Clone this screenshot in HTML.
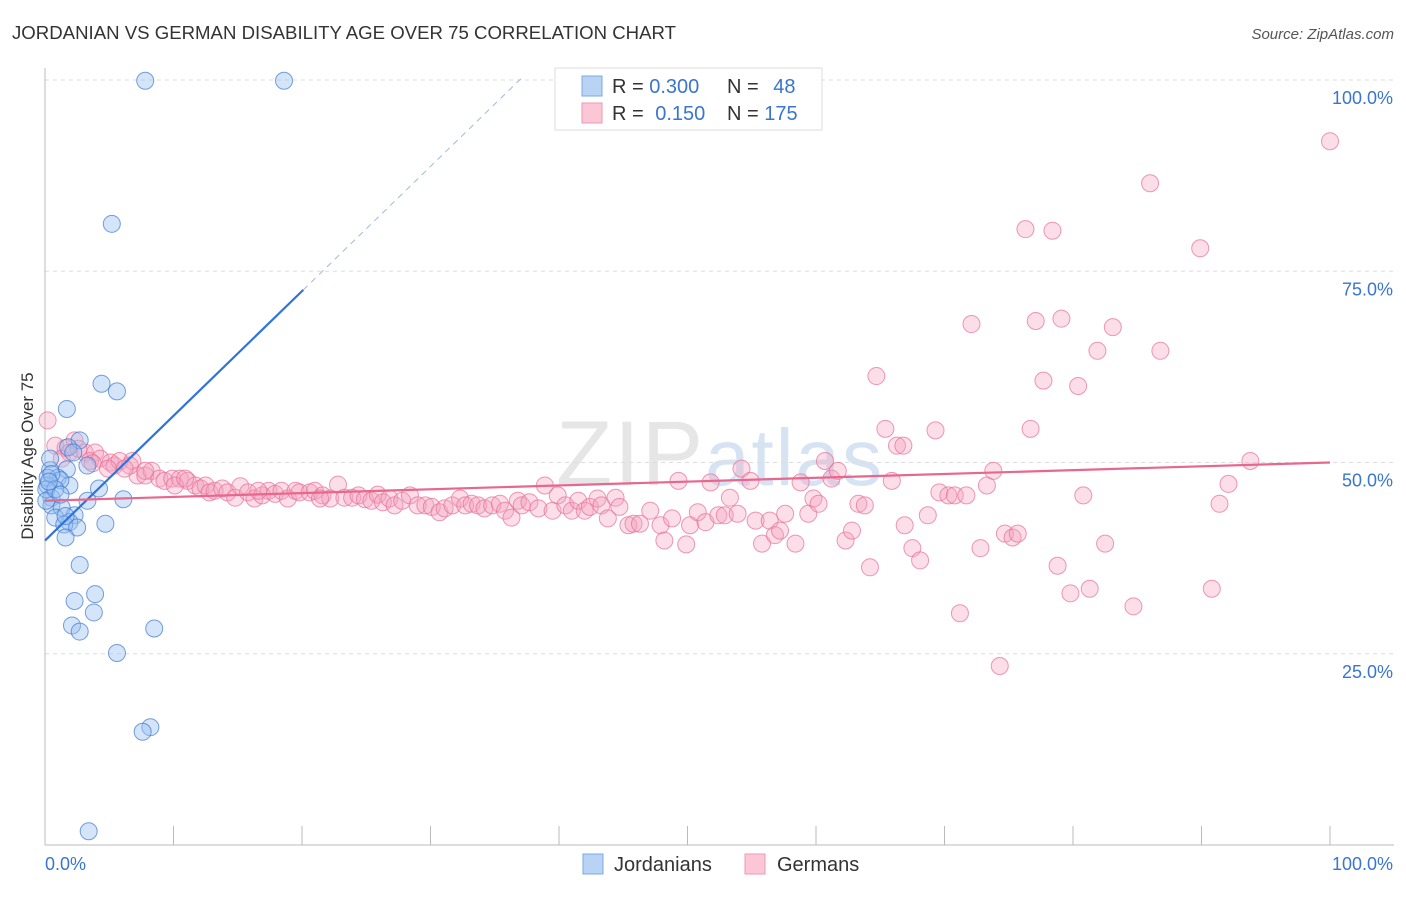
<!DOCTYPE html>
<html><head><meta charset="utf-8"><style>
body{margin:0;background:#fff;font-family:"Liberation Sans",sans-serif;}
svg text{font-family:"Liberation Sans",sans-serif;}
</style></head><body>
<svg id="chart" width="1406" height="892" xmlns="http://www.w3.org/2000/svg">
<text x="12" y="39" font-size="18.5" fill="#333" textLength="664" lengthAdjust="spacingAndGlyphs">JORDANIAN VS GERMAN DISABILITY AGE OVER 75 CORRELATION CHART</text>
<text x="1394" y="39" font-size="15" fill="#555" text-anchor="end" font-style="italic">Source: ZipAtlas.com</text>
<text x="720" y="485" font-size="92" fill="#e6e6e6" text-anchor="middle" font-family="Liberation Serif" letter-spacing="2">ZIP<tspan fill="#d6e3f3" font-family="Liberation Sans" font-size="80">atlas</tspan></text>
<g id="grid"></g>
<g id="axes"></g>
<g id="pts"></g>
<g id="trend"></g>
<text transform="translate(33,456) rotate(-90)" font-size="17" fill="#333" text-anchor="middle">Disability Age Over 75</text>
<g>
<rect x="555" y="68" width="267" height="62" fill="#fff" stroke="#ddd"/>
<rect x="582" y="76" width="20" height="20" fill="#b9d3f5" stroke="#7aa8e6"/>
<rect x="582" y="103" width="20" height="20" fill="#fbc6d6" stroke="#ee9ab3"/>
<text x="612" y="93" font-size="20" fill="#333">R = <tspan fill="#3a75d0">0.300</tspan></text>
<text x="727" y="93" font-size="20" fill="#333">N = <tspan fill="#3a75d0" dx="9">48</tspan></text>
<text x="612" y="120" font-size="20" fill="#333">R = <tspan fill="#3a75d0" dx="6">0.150</tspan></text>
<text x="727" y="120" font-size="20" fill="#333">N = <tspan fill="#3a75d0">175</tspan></text>
</g>
<g>
<rect x="583" y="854" width="20" height="20" fill="#b9d3f5" stroke="#7aa8e6"/>
<text x="614" y="871" font-size="20" fill="#333">Jordanians</text>
<rect x="745" y="854" width="20" height="20" fill="#fbc6d6" stroke="#ee9ab3"/>
<text x="777" y="871" font-size="20" fill="#333">Germans</text>
</g>
</svg>
<script>
const blueX=[7.8,18.6,5.2,4.4,5.6,1.7,2.7,1.8,2.2,3.3,1.7,0.4,1.0,0.2,1.9,1.2,4.2,0.5,3.3,6.1,0.5,1.3,0.8,2.3,1.9,1.5,2.5,4.7,1.6,2.7,3.9,2.3,3.8,2.1,2.7,8.5,5.6,8.2,7.6,3.4,0.2,0.1,0.4,0.5,0.1,0.8,1.2,1.6,0.3];
const blueY=[99.9,99.9,81.2,60.3,59.3,57.0,52.9,52.0,51.3,49.6,49.1,49.0,48.0,47.0,47.0,47.7,46.6,45.4,45.0,45.2,44.4,44.1,42.8,43.1,42.2,41.9,41.5,42.0,40.2,36.6,32.8,31.9,30.4,28.7,27.9,28.3,25.1,15.4,14.8,1.8,48,46.5,50.5,48.5,45,46.5,45.8,43,47.5];
const pinkX=[0.2,0.8,1.6,2.3,1.9,3.1,3.9,3.5,4.3,5.1,5.4,5.8,6.8,7.2,7.8,8.3,8.9,9.3,9.9,10.5,11.1,11.7,12.1,12.5,12.8,13.2,13.8,14.2,14.8,15.2,15.8,16.3,16.9,17.4,17.9,18.4,18.9,19.5,19.8,20.6,21.0,21.6,22.2,22.8,23.3,23.9,24.4,24.9,25.4,25.9,26.3,26.8,27.2,27.8,28.4,29.0,29.6,30.1,30.7,31.1,31.7,32.3,32.7,33.2,33.7,34.2,34.8,35.4,35.8,36.3,36.8,37.1,37.7,38.4,38.9,39.5,39.9,40.5,41.0,41.5,42.0,42.4,43.0,43.3,43.8,44.4,44.7,45.4,45.8,46.3,47.1,47.9,48.2,48.8,49.3,49.9,50.2,50.8,51.4,51.8,52.4,52.9,53.3,53.9,54.2,54.9,55.3,55.8,56.4,56.8,57.2,57.6,58.4,58.8,59.4,59.8,60.2,60.7,61.2,61.7,62.3,62.8,63.3,63.8,64.2,64.7,65.4,65.9,66.3,66.8,66.9,67.5,68.1,68.7,69.3,69.6,70.3,70.8,71.2,71.7,72.1,72.8,73.3,73.8,74.3,74.7,75.3,75.7,76.3,76.7,77.1,77.7,78.4,78.8,79.1,79.8,80.4,80.8,81.3,81.9,82.5,83.1,84.7,86.0,86.8,89.9,90.8,91.4,92.1,93.8,100.0,7.8,6.6,4.9,2.6,1.3,3.7,6.2,10.1,10.9,16.6,21.4];
const pinkY=[55.5,52.2,51.9,52.9,51.3,51.3,51.3,50.2,50.5,50.0,49.6,50.2,50.2,48.3,48.3,48.9,47.9,47.6,47.9,47.9,47.6,47.0,46.6,47.0,46.1,46.3,46.6,46.1,45.4,46.9,46.1,45.3,45.7,46.3,45.9,46.3,45.3,46.3,46.1,46.1,46.3,45.7,45.3,47.1,45.4,45.4,45.7,45.2,45.0,45.8,44.8,45.3,44.4,45.0,45.7,44.4,44.4,44.2,43.5,44.0,44.4,45.3,44.4,44.6,44.4,44.0,44.4,44.6,43.7,42.8,45.0,44.4,44.8,44.0,47.0,43.7,45.7,44.4,43.7,45.0,43.7,44.2,45.3,44.4,42.7,45.4,44.2,41.8,42.0,42.0,43.7,41.8,39.8,42.7,47.6,39.3,41.8,43.5,42.2,47.4,43.1,43.1,45.4,43.3,49.2,47.6,42.4,39.4,42.4,40.5,41.1,43.3,39.4,47.4,43.3,45.3,44.6,50.2,47.9,48.9,39.8,41.1,44.6,44.4,36.3,61.3,54.4,47.6,52.2,52.2,41.8,38.8,37.2,43.1,54.2,46.1,45.7,45.7,30.3,45.7,68.1,38.8,47.0,48.9,23.4,40.7,40.2,40.7,80.5,54.4,68.5,60.7,80.3,36.5,68.8,32.9,60.0,45.7,33.5,64.6,39.4,67.7,31.2,86.5,64.6,78.0,33.5,44.6,47.2,50.2,92.0,48.9,49.6,49.2,51.8,50.5,49.9,49.2,47.0,47.9,46.3,45.3];
const yTicks=[25,50,75,100];
const yTickLabels=["25.0%","50.0%","75.0%","100.0%"];
const xTicks=[0,10,20,30,40,50,60,70,80,90,100];
const blueTrend=[39.8,1.63];   // intercept, slope
const pinkTrend=[45.0,0.05];
const NS="http://www.w3.org/2000/svg";
const X0=45,X1=1330,Y0=845,Y100=80;
const sx=v=>X0+(X1-X0)*v/100;
const sy=v=>Y0-(Y0-Y100)*v/100;
function mk(tag,attrs,parent){const e=document.createElementNS(NS,tag);for(const k in attrs)e.setAttribute(k,attrs[k]);document.getElementById(parent).appendChild(e);return e;}
yTicks.forEach((t,i)=>{
 const l=mk('line',{x1:X0,x2:1394,y1:sy(t),y2:sy(t),stroke:'#ddd','stroke-dasharray':'4,4'},'grid');
 
 
 const tx=mk('text',{x:1393,y:sy(t)+24,'font-size':18,fill:'#3a75d0','text-anchor':'end'},'axes');
 tx.textContent=yTickLabels[i];
 
 
});
const ya=mk('line',{x1:X0,x2:X0,y1:68,y2:Y0,stroke:'#bbb'},'axes');


const xa=mk('line',{x1:X0,x2:1394,y1:Y0,y2:Y0,stroke:'#bbb'},'axes');


xTicks.forEach(t=>{
 const l=mk('line',{x1:sx(t),x2:sx(t),y1:826,y2:Y0,stroke:'#bbb'},'axes');
 
 
});
const xl0=mk('text',{x:45,y:870,'font-size':18,fill:'#3a75d0'},'axes');xl0.textContent='0.0%';


const xl1=mk('text',{x:1393,y:870,'font-size':18,fill:'#3a75d0','text-anchor':'end'},'axes');xl1.textContent='100.0%';


pinkX.forEach((v,i)=>{
 const c=mk('circle',{cx:sx(v),cy:sy(pinkY[i]),r:8.5,fill:'rgba(244,160,188,0.35)',stroke:'rgba(232,110,150,0.7)','stroke-width':1},'pts');
 
 
});
blueX.forEach((v,i)=>{
 const c=mk('circle',{cx:sx(v),cy:sy(blueY[i]),r:8.5,fill:'rgba(150,190,240,0.4)',stroke:'rgba(60,120,210,0.7)','stroke-width':1},'pts');
 
 
});
const bEnd=20.1,bDash=37.3;
const bl=mk('line',{x1:sx(0),y1:sy(blueTrend[0]),x2:sx(bEnd),y2:sy(blueTrend[0]+blueTrend[1]*bEnd),stroke:'#2f74d8','stroke-width':2.2},'trend');


const bd=mk('line',{x1:sx(bEnd),y1:sy(blueTrend[0]+blueTrend[1]*bEnd),x2:sx(bDash),y2:sy(blueTrend[0]+blueTrend[1]*bDash),stroke:'#9fb9dc','stroke-width':1,'stroke-dasharray':'6,5'},'trend');


const pl=mk('line',{x1:sx(0),y1:sy(pinkTrend[0]),x2:sx(100),y2:sy(pinkTrend[0]+pinkTrend[1]*100),stroke:'#e8678f','stroke-width':2.2},'trend');


</script>
</body></html>
